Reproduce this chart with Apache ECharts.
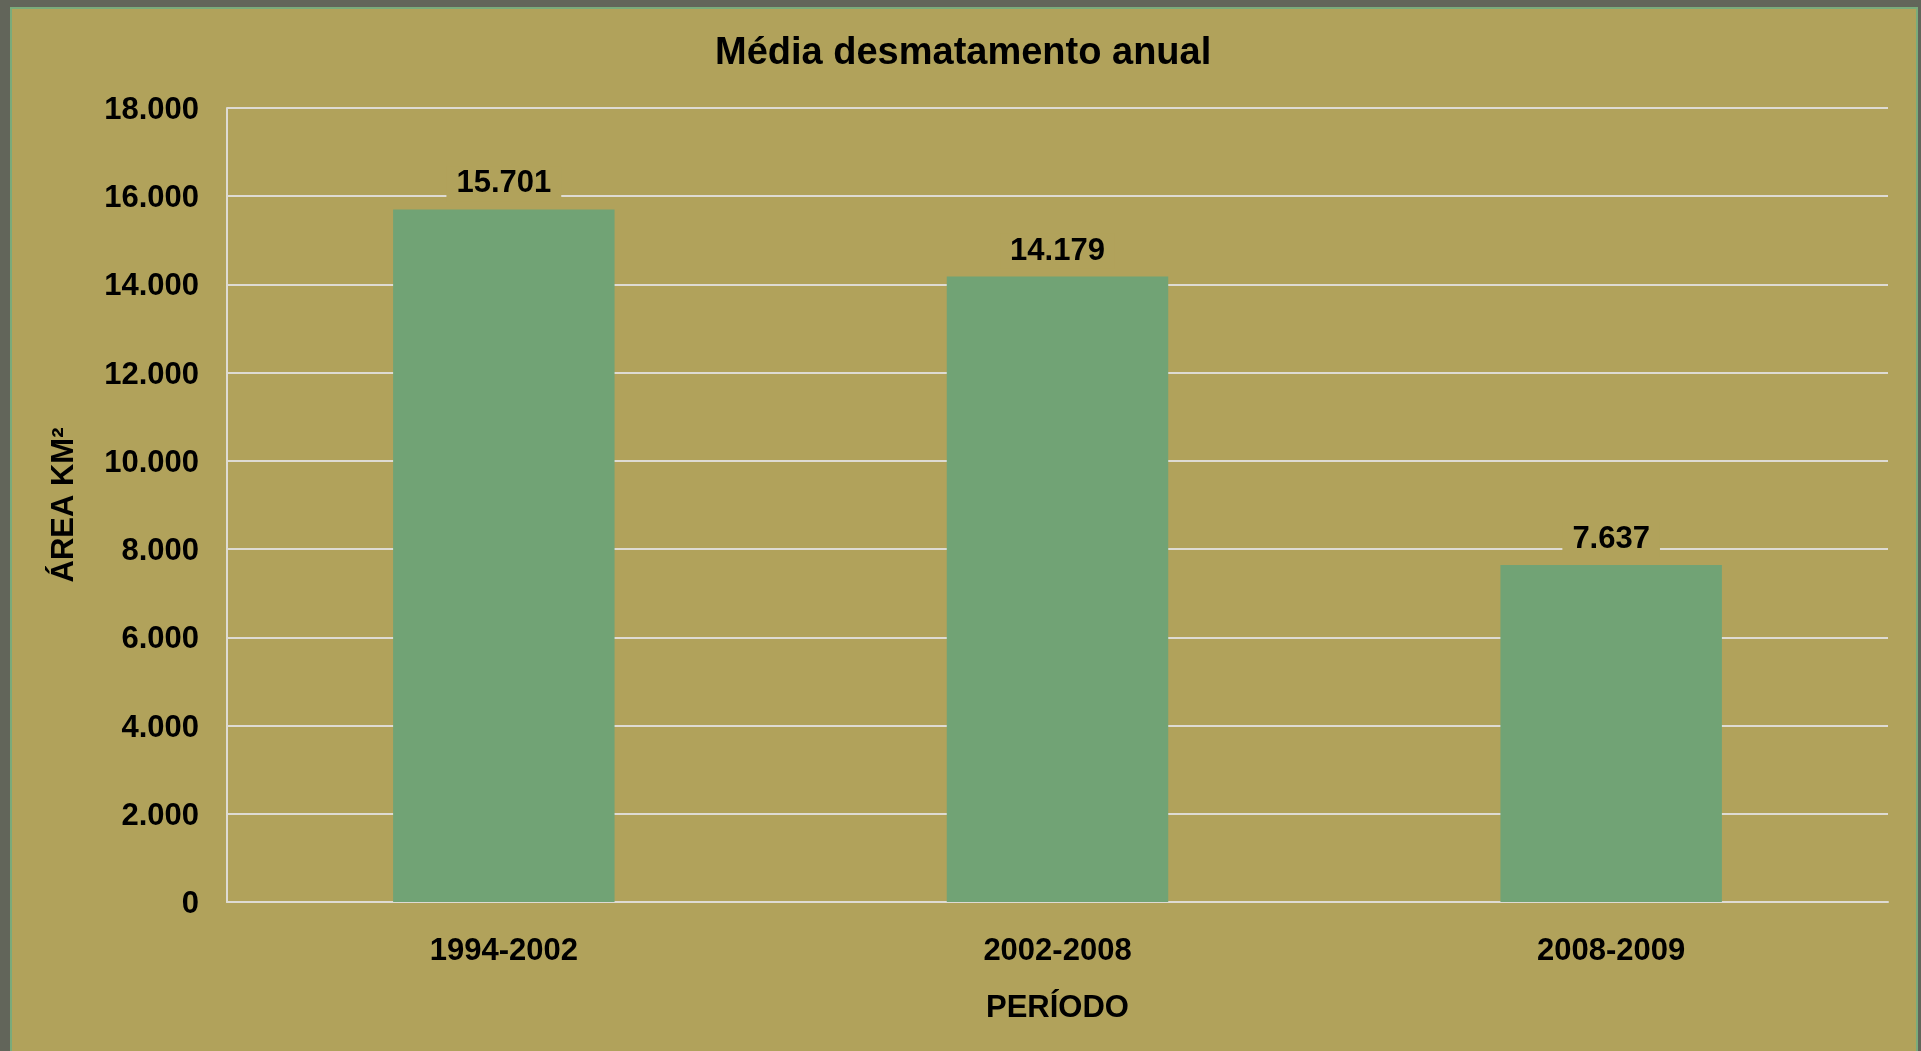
<!DOCTYPE html>
<html>
<head>
<meta charset="utf-8">
<script src="https://cdn.jsdelivr.net/npm/echarts@6/dist/echarts.min.js"></script>
<style>
  html, body { margin: 0; padding: 0; width: 1921px; height: 1051px; overflow: hidden; background: #62655a; }
  #frame { position: absolute; left: 10px; top: 7px; width: 1904px; height: 1060px; border: 2px solid #7aab7b; border-bottom: none; background: #b1a25b; }
  #chart { position: absolute; left: 0; top: 0; width: 1904px; height: 1042px; }
</style>
</head>
<body>
<div id="frame"><div id="chart"></div></div>
<script>
const categories = ['1994-2002', '2002-2008', '2008-2009'];
const values = [15701, 14179, 7637];
const titleText = 'Média desmatamento anual';
const yName = 'ÁREA KM²';
const xName = 'PERÍODO';

const fmt = v => String(v).replace(/\B(?=(\d{3})+(?!\d))/g, '.');
const FONT = '"Liberation Sans", Arial, sans-serif';

const chart = echarts.init(document.getElementById('chart'));
chart.setOption({
  backgroundColor: '#b1a25b',
  animation: false,
  title: {
    text: titleText,
    left: 703, top: 26,
    padding: 0,
    textStyle: { fontFamily: FONT, fontWeight: 'bold', fontSize: 38, color: '#000' }
  },
  grid: { left: 215, right: 28, top: 99, bottom: 149, containLabel: false },
  xAxis: {
    type: 'category',
    data: categories,
    name: xName,
    nameLocation: 'middle',
    nameGap: 91,
    nameTextStyle: { fontFamily: FONT, fontWeight: 'bold', fontSize: 31, color: '#000' },
    axisLine: { show: true, lineStyle: { color: '#dedbd3', width: 2 } },
    axisTick: { show: false },
    axisLabel: { margin: 34, fontFamily: FONT, fontWeight: 'bold', fontSize: 31, color: '#000' }
  },
  yAxis: {
    type: 'value',
    min: 0, max: 18000, interval: 2000,
    name: yName,
    nameLocation: 'middle',
    nameGap: 147,
    nameRotate: 90,
    nameTextStyle: { fontFamily: FONT, fontWeight: 'bold', fontSize: 31, color: '#000' },
    axisLine: { show: true, lineStyle: { color: '#dedbd3', width: 2 } },
    axisTick: { show: false },
    axisLabel: {
      margin: 28, fontFamily: FONT, fontWeight: 'bold', fontSize: 31, color: '#000',
      formatter: v => '{v|' + fmt(v) + '}',
      rich: { v: { fontFamily: FONT, fontWeight: 'bold', fontSize: 31, color: '#000', padding: [5, 0, 0, 0] } }
    },
    splitLine: { show: true, lineStyle: { color: '#dedbd3', width: 2 } }
  },
  series: [{
    type: 'bar',
    data: values,
    barWidth: '40%',
    itemStyle: { color: '#71a375' },
    label: {
      show: true,
      position: 'top',
      distance: 8,
      formatter: p => fmt(p.value),
      fontFamily: FONT, fontWeight: 'bold', fontSize: 31, color: '#000',
      backgroundColor: '#b1a25b',
      padding: [2, 10, 2, 10]
    }
  }]
});
</script>
</body>
</html>
